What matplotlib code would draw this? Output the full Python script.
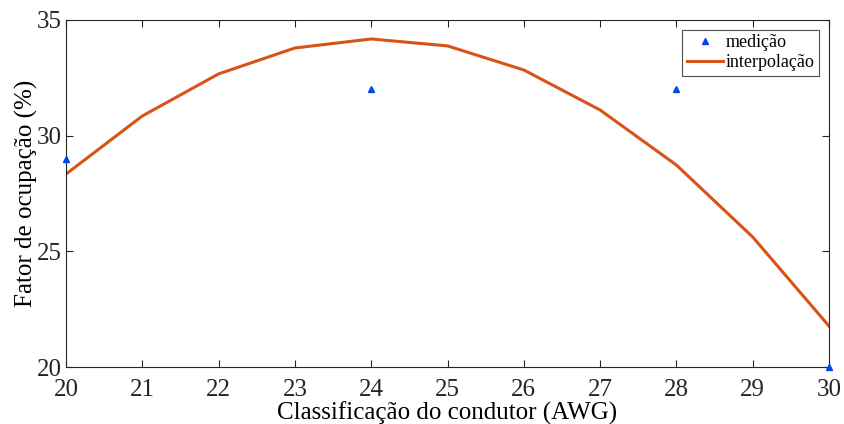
import numpy as np
import matplotlib.pyplot as plt

plt.rcParams['font.family'] = ['Liberation Serif', 'DejaVu Serif']

awg_medido = [20, 24, 28, 30]
fator_medido = [29, 32, 32, 20]

awg_interp = [20, 21, 22, 23, 24, 25, 26, 27, 28, 29, 30]
fator_interp = [28.34, 30.85, 32.67, 33.79, 34.18, 33.88, 32.84, 31.11, 28.73, 25.62, 21.77]

fig = plt.figure(figsize=(8.44, 4.24), dpi=100)
ax = fig.add_axes([66 / 844, 1 - 367 / 424, (829 - 66) / 844, (367 - 20) / 424])

ax.plot(awg_medido, fator_medido, '^', color='#0044ee', markersize=5, linestyle='none',
        label='medição', clip_on=False, zorder=3)
ax.plot(awg_interp, fator_interp, '-', color='#d95319', linewidth=2.2, label='interpolação')

ax.set_xlim(20, 30)
ax.set_ylim(20, 35)
ax.set_xticks(range(20, 31))
ax.set_yticks([20, 25, 30, 35])
ax.tick_params(direction='in', top=True, right=True, length=5, labelsize=18, colors='#262626')
ax.tick_params(axis='x', pad=9)
ax.tick_params(axis='y', pad=3)
for s in ax.spines.values():
    s.set_color('#262626')
    s.set_linewidth(0.8)

ax.set_xlabel('Classificação do condutor (AWG)', fontsize=18, labelpad=0)
ax.set_ylabel('Fator de ocupação (%)', fontsize=18, labelpad=-1)

leg = ax.legend(loc='upper right', fontsize=13, frameon=True, fancybox=False,
                edgecolor='#262626', handlelength=2.0, handletextpad=0.15,
                borderpad=0.25, labelspacing=0.15, borderaxespad=0.55)
leg.get_frame().set_linewidth(0.8)

fig.savefig('out.png', dpi=100)
